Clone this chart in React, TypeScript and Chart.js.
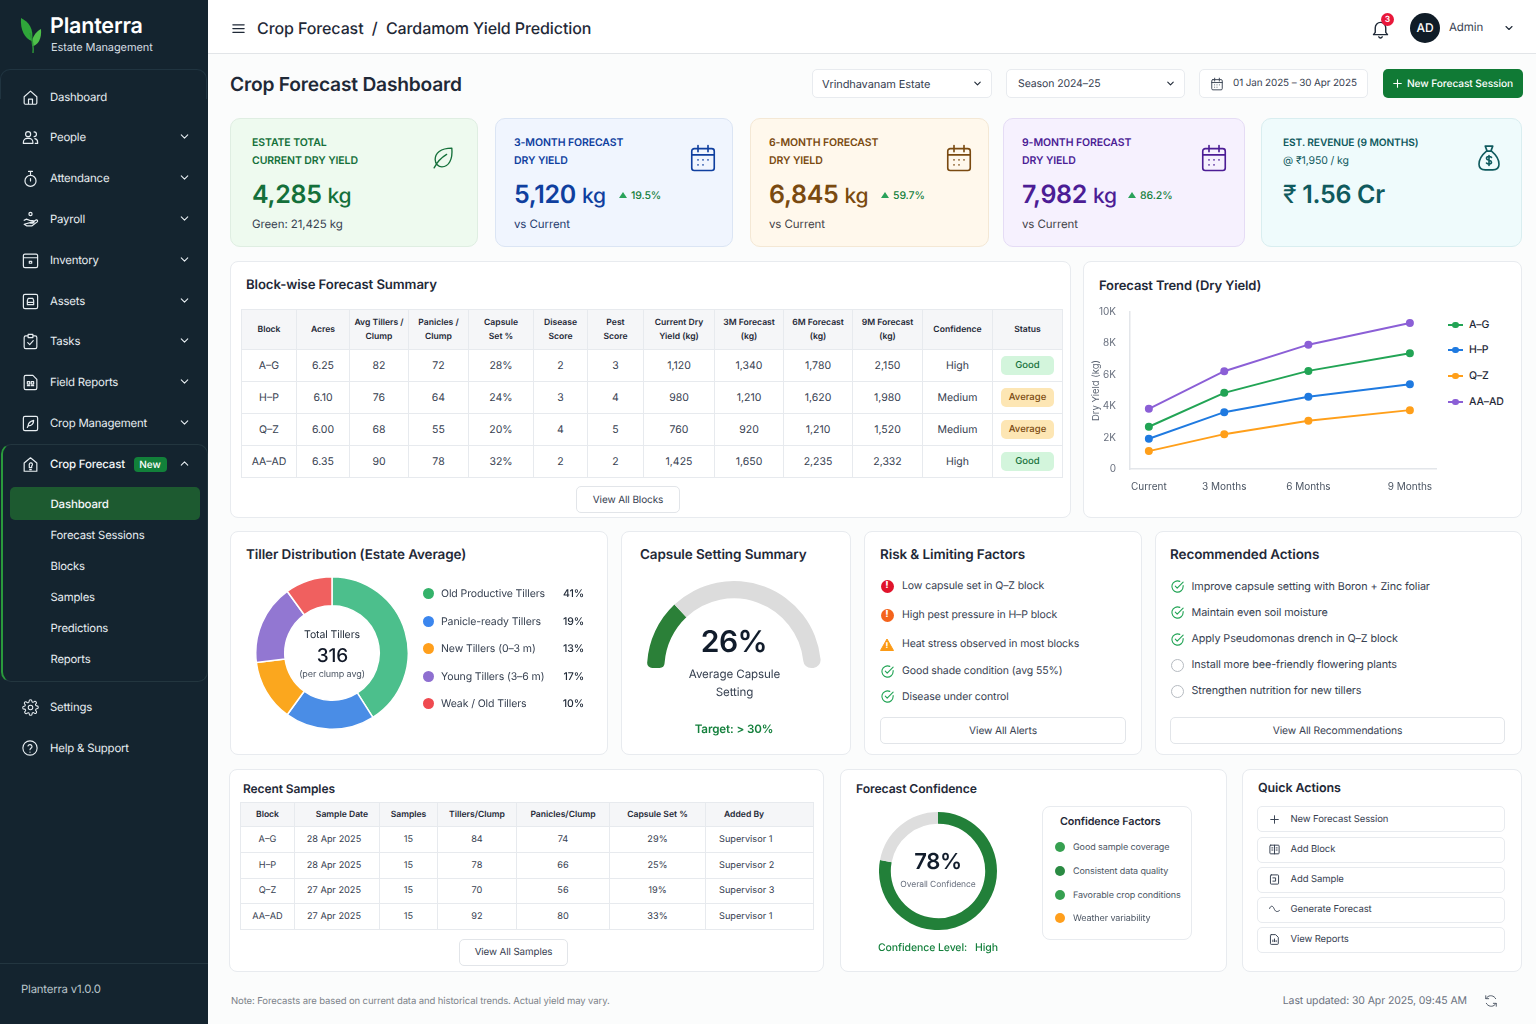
import { useEffect, useRef } from "react";
import type { CSSProperties, ReactNode } from "react";
import Chart from "chart.js/auto";

const FONT = "Inter, 'Noto Sans', sans-serif";

// forecast trend (kg)
const trendLabels = ["Current", "3 Months", "6 Months", "9 Months"];
const trendSteps = [0, 2.6, 5.5, 9]; // the horizons are not evenly spaced in the picture
const agYield = [2690, 4850, 6250, 7370];
const hpYield = [1930, 3620, 4600, 5400];
const qzYield = [1140, 2220, 3070, 3750];
const aaYield = [3830, 6230, 7920, 9300];
const trendNames = ["A–G", "H–P", "Q–Z", "AA–AD"];
const trendColors = ["#22a455", "#1f7ae0", "#ff9f1a", "#8b5fd6"];

const tillerLabels = ["Old Productive Tillers", "Panicle-ready Tillers", "New Tillers (0–3 m)", "Young Tillers (3–6 m)", "Weak / Old Tillers"];
const tillerShares = [41, 19, 13, 17, 10];
const tillerColors = ["#4cbf8c", "#4a8de6", "#fba71e", "#9277d2", "#f0605f"];
const tillerDots = ["#34b26a", "#3b86ee", "#ff9f1c", "#8e6fd0", "#ef4a50"];

const capsuleParts = [26, 74];
const confidenceParts = [78, 22];

const blockHead = ["Block", "Acres", "Avg Tillers /\nClump", "Panicles /\nClump", "Capsule\nSet %", "Disease\nScore", "Pest\nScore", "Current Dry\nYield (kg)", "3M Forecast\n(kg)", "6M Forecast\n(kg)", "9M Forecast\n(kg)", "Confidence", "Status"];
const blockRows = [
  ["A–G", "6.25", "82", "72", "28%", "2", "3", "1,120", "1,340", "1,780", "2,150", "High", "Good"],
  ["H–P", "6.10", "76", "64", "24%", "3", "4", "980", "1,210", "1,620", "1,980", "Medium", "Average"],
  ["Q–Z", "6.00", "68", "55", "20%", "4", "5", "760", "920", "1,210", "1,520", "Medium", "Average"],
  ["AA–AD", "6.35", "90", "78", "32%", "2", "2", "1,425", "1,650", "2,235", "2,332", "High", "Good"],
];
const blockCols = [55, 53, 59, 60, 65, 54, 56, 71, 69, 69, 70, 70, 70];

const sampleHead = ["Block", "Sample Date", "Samples", "Tillers/Clump", "Panicles/Clump", "Capsule Set %", "Added By"];
const sampleRows = [
  ["A–G", "28 Apr 2025", "15", "84", "74", "29%", "Supervisor 1"],
  ["H–P", "28 Apr 2025", "15", "78", "66", "25%", "Supervisor 2"],
  ["Q–Z", "27 Apr 2025", "15", "70", "56", "19%", "Supervisor 3"],
  ["AA–AD", "27 Apr 2025", "15", "92", "80", "33%", "Supervisor 1"],
];
const sampleCols = [54, 85, 58, 79, 93, 96, 108];

const navItems = ["Dashboard", "People", "Attendance", "Payroll", "Inventory", "Assets", "Tasks", "Field Reports", "Crop Management"];
const navIcons = ["home", "users", "timer", "coin", "box", "truck", "check", "file", "sprout"];
const subItems = ["Forecast Sessions", "Blocks", "Samples", "Predictions", "Reports"];
const riskItems = ["Low capsule set in Q–Z block", "High pest pressure in H–P block", "Heat stress observed in most blocks", "Good shade condition (avg 55%)", "Disease under control"];
const actionItems = ["Improve capsule setting with Boron + Zinc foliar", "Maintain even soil moisture", "Apply Pseudomonas drench in Q–Z block", "Install more bee-friendly flowering plants", "Strengthen nutrition for new tillers"];
const factorItems = ["Good sample coverage", "Consistent data quality", "Favorable crop conditions", "Weather variability"];
const quickItems = ["New Forecast Session", "Add Block", "Add Sample", "Generate Forecast", "View Reports"];

const ICONS: Record<string, string> = {
  home: "M4 11l8-7 8 7v8a1.5 1.5 0 0 1-1.5 1.5h-13A1.5 1.5 0 0 1 4 19zM9.5 20.5V14h5v6.5",
  users: "M9 11a3.2 3.2 0 1 0 0-6.4A3.2 3.2 0 0 0 9 11zM16.5 11a3 3 0 1 0 0-6M3 19.5v-1.5a5 5 0 0 1 5-5h2a5 5 0 0 1 5 5v1.5zM17.5 13.5a4.5 4.5 0 0 1 3.5 4.5v1.5h-3",
  timer: "M12 8a7 7 0 1 0 0 14 7 7 0 0 0 0-14zM12 3v5M9.5 3h5M12 15v-3",
  coin: "M12 3a2 2 0 1 0 0 4 2 2 0 0 0 0-4zM4 13l3-1.5 5 2h3a1.5 1.5 0 0 1 0 3h-3M15 15l4-2.5a1.5 1.5 0 0 1 1.5 2.5L14 20H7l-3-2z",
  box: "M5 4h14a2 2 0 0 1 2 2v13a2 2 0 0 1-2 2H5a2 2 0 0 1-2-2V6a2 2 0 0 1 2-2zM3 8.5h18M10.5 13h3v2.5h-3z",
  truck: "M5 3h14a2 2 0 0 1 2 2v14a2 2 0 0 1-2 2H5a2 2 0 0 1-2-2V5a2 2 0 0 1 2-2zM8 11l1-3h6l1 3v5H8zM8 13h8",
  check: "M8 5H6a2 2 0 0 0-2 2v12a2 2 0 0 0 2 2h12a2 2 0 0 0 2-2V7a2 2 0 0 0-2-2h-2M9 3h6v4H9zM8.5 13.5l2.5 2.5 4.5-5",
  file: "M6 3h9l5 5v11a2 2 0 0 1-2 2H6a2 2 0 0 1-2-2V5a2 2 0 0 1 2-2zM8 11h3v3H8zM13 11h3v3h-3zM8 16h3M13 16h3",
  sprout: "M5 3h14a2 2 0 0 1 2 2v14a2 2 0 0 1-2 2H5a2 2 0 0 1-2-2V5a2 2 0 0 1 2-2zM9 15c0-4 3-6 7-7 0 4-2 7-7 7zM9 15l-1 2",
  forecast: "M4 20.5V10l8-6.5 8 6.5v10.5zM10.5 12a2 2 0 1 1 3 1.7V16h-3v-2.3a2 2 0 0 1 0-1.7zM11 18.5h2",
  gear: "M12 15.2a3.2 3.2 0 1 0 0-6.4 3.2 3.2 0 0 0 0 6.4zM19.4 15a1.6 1.6 0 0 0 .3 1.8l.1.1a2 2 0 1 1-2.8 2.8l-.1-.1a1.6 1.6 0 0 0-2.7 1.1V21a2 2 0 1 1-4 0v-.1a1.6 1.6 0 0 0-2.7-1.1l-.1.1a2 2 0 1 1-2.8-2.8l.1-.1a1.6 1.6 0 0 0-1.1-2.7H3a2 2 0 1 1 0-4h.1a1.6 1.6 0 0 0 1.1-2.7l-.1-.1a2 2 0 1 1 2.8-2.8l.1.1a1.6 1.6 0 0 0 1.8.3H9a1.6 1.6 0 0 0 1-1.5V3a2 2 0 1 1 4 0v.1a1.6 1.6 0 0 0 2.7 1.1l.1-.1a2 2 0 1 1 2.8 2.8l-.1.1a1.6 1.6 0 0 0 1.1 2.7H21a2 2 0 1 1 0 4h-.1a1.6 1.6 0 0 0-1.5 1z",
  help: "M12 21.5a9.5 9.5 0 1 0 0-19 9.5 9.5 0 0 0 0 19zM9.3 9.3a2.8 2.8 0 0 1 5.4.9c0 1.9-2.7 2.4-2.7 4M12 17.5h.01",
  down: "M6 9l6 6 6-6",
  up: "M6 15l6-6 6 6",
  cal: "M5 4.5h14a2 2 0 0 1 2 2V20a2 2 0 0 1-2 2H5a2 2 0 0 1-2-2V6.5a2 2 0 0 1 2-2zM3 9.5h18M8 2v5M16 2v5M8 13.5h.01M12 13.5h.01M16 13.5h.01M8 17.5h.01M12 17.5h.01",
  leaf: "M20 3C9 3 4 8 4 14c0 4 3 7 6.5 7C17 21 21 14 20 3zM3 22c3-6 7-10 12-13",
  bag: "M9 2.5h6l-1.5 4h-3zM10 6.5h4c3 2.5 6 6.5 6 10.5 0 3-2 4.5-5 4.5H9c-3 0-5-1.5-5-4.5 0-4 3-8 6-10.5zM14 11.5c-1-1-4-1-4 .8 0 2 4 1 4 3 0 1.8-3 1.8-4 .7M12 10v8",
  bell: "M18 16.5V11a6 6 0 0 0-12 0v5.5L4 19h16zM10 21.5a2.2 2.2 0 0 0 4 0",
  menu: "M3 6h18M3 12h18M3 18h18",
  plus: "M12 5v14M5 12h14",
  block: "M5 4h14a1.5 1.5 0 0 1 1.5 1.5v13A1.5 1.5 0 0 1 19 20H5a1.5 1.5 0 0 1-1.5-1.5v-13A1.5 1.5 0 0 1 5 4zM12 4v16M7 9h2M7 13h2M15 9h2M15 13h2",
  sample: "M6 3.5h12A1.5 1.5 0 0 1 19.5 5v14a1.5 1.5 0 0 1-1.5 1.5H6A1.5 1.5 0 0 1 4.5 19V5A1.5 1.5 0 0 1 6 3.5zM9 9h5v6H9",
  wave: "M3 10c2-6 6-5 8 0s5 8 10 4",
  report: "M6 3h8l5 5v11.5a1.5 1.5 0 0 1-1.5 1.5H6a1.5 1.5 0 0 1-1.5-1.5v-15A1.5 1.5 0 0 1 6 3zM9 16v-3M12 16v-5M15 16v-2",
  refresh: "M20 8a9 9 0 0 0-15-2L3 8M3 3v5h5M4 16a9 9 0 0 0 15 2l2-2M21 21v-5h-5",
  tick: "M21 10.5V12a9 9 0 1 1-5.3-8.2M8.5 11.5l3 3L21 5",
};

const Ico = ({ n, x, y, s = 20, c = "#e8eef2", w = 1.6 }: { n: string; x: number; y: number; s?: number; c?: string; w?: number }) => (
  <svg width={s} height={s} viewBox="0 0 24 24" fill="none" stroke={c} strokeWidth={w} strokeLinecap="round" strokeLinejoin="round"
    style={{ position: "absolute", left: x - s / 2, top: y - s / 2 }}>
    <path d={ICONS[n]} />
  </svg>
);

type TP = { x: number; y: number; s?: number; w?: number; c?: string; a?: "l" | "c" | "r"; ls?: number; children: ReactNode };
const T = ({ x, y, s = 12, w = 400, c = "#374151", a = "l", ls = -0.1, children }: TP) => (
  <div style={{
    position: "absolute", left: x, top: y + 0.5, fontSize: s, fontWeight: w, color: c, whiteSpace: "nowrap", lineHeight: 1, letterSpacing: ls,
    transform: `translate(${a === "l" ? "0" : a === "c" ? "-50%" : "-100%"},-50%)`,
  }}>{children}</div>
);

const Box = ({ x, y, r, b, style, children }: { x: number; y: number; r: number; b: number; style?: CSSProperties; children?: ReactNode }) => (
  <div style={{
    position: "absolute", left: x, top: y, width: r - x, height: b - y, boxSizing: "border-box", background: "#fff",
    border: "1px solid #e8ebef", borderRadius: 8, ...style,
  }}>{children}</div>
);

const Btn = ({ x, y, r, b, label, s = 10.2 }: { x: number; y: number; r: number; b: number; label: string; s?: number }) => (
  <>
    <Box x={x} y={y} r={r} b={b} style={{ borderRadius: 5, border: "1px solid #e2e5e9" }} />
    <T x={(x + r) / 2} y={(y + b) / 2} s={s} c="#374151" a="c">{label}</T>
  </>
);

const Dot = ({ x, y, s = 11, c }: { x: number; y: number; s?: number; c: string }) => (
  <div style={{ position: "absolute", left: x - s / 2, top: y - s / 2, width: s, height: s, borderRadius: "50%", background: c }} />
);

const ChartBox = ({ x, y, w, h, make }: { x: number; y: number; w: number; h: number; make: (c: HTMLCanvasElement) => Chart }) => {
  const ref = useRef<HTMLCanvasElement>(null);
  useEffect(() => {
    const chart = make(ref.current!);
    return () => chart.destroy();
  }, []);
  return <canvas ref={ref} width={w} height={h} style={{ position: "absolute", left: x, top: y, width: w, height: h }} />;
};

const makeTrend = (c: HTMLCanvasElement) =>
  new Chart(c, {
    type: "line",
    data: {
      datasets: [agYield, hpYield, qzYield, aaYield].map((ys, i) => ({
        label: trendNames[i],
        data: ys.map((y, k) => ({ x: trendSteps[k], y })),
        borderColor: trendColors[i],
        backgroundColor: trendColors[i],
        borderWidth: 2,
        pointRadius: 3,
        tension: 0,
      })),
    },
    options: {
      animation: false,
      responsive: false,
      layout: { padding: { top: 12, right: 6 } },
      plugins: { legend: { display: false }, tooltip: { enabled: false } },
      scales: {
        x: {
          type: "linear",
          min: -0.65,
          max: 9.9,
          grid: { display: false },
          border: { color: "#e3e6ea", width: 1.5 },
          afterBuildTicks: (ax: any) => { ax.ticks = trendSteps.map((value) => ({ value })); },
          afterFit: (ax: any) => { ax.height = 26; },
          ticks: {
            autoSkip: false, maxRotation: 0, color: "#4b5563", padding: 4, font: { family: FONT, size: 10 },
            callback: (v: any) => trendLabels[trendSteps.indexOf(Number(v))],
          },
        },
        y: {
          min: 0,
          max: 10000,
          grid: { display: false },
          border: { color: "#e3e6ea", width: 1.5 },
          afterFit: (ax: any) => { ax.width = 43; },
          title: { display: true, text: "Dry Yield (kg)", color: "#5b6472", padding: { top: 3, bottom: 0 }, font: { family: FONT, size: 9.5 } },
          ticks: {
            stepSize: 2000, color: "#6b7280", padding: 6, font: { family: FONT, size: 10 },
            callback: (v: any) => (Number(v) === 0 ? "0" : `${Number(v) / 1000}K`),
          },
        },
      },
    },
  });

const makeTillers = (c: HTMLCanvasElement) =>
  new Chart(c, {
    type: "doughnut",
    data: { labels: tillerLabels, datasets: [{ data: tillerShares, backgroundColor: tillerColors, borderColor: "#fff", borderWidth: 1.5 }] },
    options: { animation: false, responsive: false, cutout: "62%", plugins: { legend: { display: false }, tooltip: { enabled: false } } },
  });

const makeGauge = (c: HTMLCanvasElement) =>
  new Chart(c, {
    type: "doughnut",
    data: {
      labels: ["Average", "Rest"],
      datasets: [{
        data: capsuleParts,
        backgroundColor: ["#2b8038", "#dcdcdc"],
        borderWidth: 0,
        borderRadius: [
          { outerStart: 5, innerStart: 5, outerEnd: 0, innerEnd: 0 },
          { outerStart: 0, innerStart: 0, outerEnd: 8, innerEnd: 8 },
        ] as any,
      }],
    },
    options: { animation: false, responsive: false, rotation: -90, circumference: 180, cutout: "80%", plugins: { legend: { display: false }, tooltip: { enabled: false } } },
  });

const makeConfidence = (c: HTMLCanvasElement) =>
  new Chart(c, {
    type: "doughnut",
    data: { labels: ["Confidence", "Rest"], datasets: [{ data: confidenceParts, backgroundColor: ["#228039", "#dedede"], borderWidth: 0 }] },
    options: { animation: false, responsive: false, cutout: "80%", plugins: { legend: { display: false }, tooltip: { enabled: false } } },
  });

const th: CSSProperties = { border: "1px solid #e7eaee", background: "#f5f6f8", fontWeight: 600, color: "#1f2937", padding: 0, textAlign: "center", whiteSpace: "pre-line" };
const td: CSSProperties = { border: "1px solid #e7eaee", color: "#374151", padding: 0, textAlign: "center", whiteSpace: "nowrap" };

const Kpi = ({ x, bx, r, bg, bd, head, l1, l2, l1s = 10.5, value, unit, pct, foot, footColor, icon, ix, l2w = 600 }: any) => (
  <>
    <Box x={bx} y={118} r={r} b={247} style={{ background: bg, border: `1px solid ${bd}`, borderRadius: 10 }} />
    <T x={x} y={142} s={l1s} w={600} c={head}>{l1}</T>
    <T x={x} y={160} s={10.5} w={l2w} c={head}>{l2}</T>
    <T x={x} y={194} s={25} w={600} c={head} ls={-0.3}>{value}{unit && <span style={{ fontWeight: 500, fontSize: 21, marginLeft: 6 }}>{unit}</span>}</T>
    {pct && <>
      <svg width="8" height="6" style={{ position: "absolute", left: pct.x, top: 192 }}><path d="M4 0L8 6H0z" fill="#2aa25a" /></svg>
      <T x={pct.x + 12} y={195} s={10.5} w={500} c="#15803d">{pct.t}</T>
    </>}
    <T x={x} y={224} s={11.5} c={footColor}>{foot}</T>
    <Ico n={icon} x={ix} y={157.5} s={icon === "leaf" ? 25 : 30} c={head} w={1.3} />
  </>
);

export default function App() {
  return (
    <div style={{ position: "fixed", left: 0, top: 0, width: 1536, height: 1024, overflow: "hidden", background: "#fbfcfc", fontFamily: FONT, textRendering: "geometricPrecision" }}>
      {/* sidebar */}
      <div style={{ position: "absolute", left: 0, top: 0, width: 208, height: 1024, background: "#14242f" }} />
      <div style={{ position: "absolute", left: 0, top: 69, width: 207, height: 30, borderTop: "1px solid #203440", borderRight: "1px solid #203440", borderLeft: "1px solid #203440", borderRadius: "10px 10px 0 0", boxSizing: "border-box" }} />
      <svg width="26" height="38" viewBox="0 0 26 38" style={{ position: "absolute", left: 20, top: 17 }}>
        <path d="M1 1C9 5 14 12 12 24 5 22 0 13 1 1z" fill="#2fa63a" />
        <path d="M21 12c1 9-3 17-9 17-1-7 3-14 9-17z" fill="#4fc04a" />
        <path d="M10 16c2 6 4 12 3 20" stroke="#2c9438" strokeWidth="1.5" fill="none" />
      </svg>
      <T x={50} y={26.5} s={21.5} w={600} c="#fff" ls={-0.2}>Planterra</T>
      <T x={51} y={46.5} s={11} c="#d5dde2">Estate Management</T>
      {navItems.map((n, i) => {
        const y = [97, 137, 178, 219, 260, 301, 341, 382, 423][i];
        return (
          <div key={n}>
            <Ico n={navIcons[i]} x={30} y={y} s={19} w={1.5} />
            <T x={50} y={y} s={11.4} ls={-0.2} c="#e8eef2">{n}</T>
            {i > 0 && <Ico n="down" x={184} y={y - 1} s={13} w={2} />}
          </div>
        );
      })}
      <div style={{ position: "absolute", left: 1, top: 444, width: 207, height: 238, boxSizing: "border-box", border: "1px solid #23363f", borderLeft: "2px solid #2a9a3c", borderRadius: 10 }} />
      <Ico n="forecast" x={30} y={464} s={19} w={1.5} />
      <T x={50} y={464} s={11.5} w={500} ls={-0.2} c="#f3f6f8">Crop Forecast</T>
      <div style={{ position: "absolute", left: 134, top: 457, width: 33, height: 15, borderRadius: 4, background: "#12803a" }} />
      <T x={150} y={464} s={10} w={500} c="#fff" a="c">New</T>
      <Ico n="up" x={184} y={463} s={13} w={2} />
      <div style={{ position: "absolute", left: 10, top: 487, width: 190, height: 33, borderRadius: 5, background: "#1d5a30" }} />
      <T x={50.5} y={504} s={11.5} w={500} ls={-0.2} c="#f3f6f8">Dashboard</T>
      {subItems.map((n, i) => <T key={n} x={50.5} y={[535.5, 566.5, 597.5, 628.5, 659.5][i]} s={11.3} ls={-0.2} c="#e8eef2">{n}</T>)}
      <Ico n="gear" x={30} y={707} s={17} w={1.5} />
      <T x={50} y={707} s={11.4} ls={-0.2} c="#e8eef2">Settings</T>
      <Ico n="help" x={30} y={748} s={18} w={1.5} />
      <T x={50} y={748} s={11.4} ls={-0.2} c="#e8eef2">Help &amp; Support</T>
      <div style={{ position: "absolute", left: 0, top: 963, width: 208, height: 1, background: "#233640" }} />
      <T x={21} y={989.5} s={11.4} ls={-0.2} c="#b9c4cb">Planterra v1.0.0</T>

      {/* top bar */}
      <div style={{ position: "absolute", left: 208, top: 0, width: 1328, height: 54, background: "#fff", borderBottom: "1px solid #e2e5e8", boxSizing: "border-box" }} />
      <Ico n="menu" x={238} y={28} s={15} c="#1f2937" w={2} />
      <T x={257} y={27} s={16} w={500} c="#1f2937" ls={-0.1}>Crop Forecast&nbsp;&nbsp;/&nbsp;&nbsp;Cardamom Yield Prediction</T>
      <Ico n="bell" x={1380} y={28} s={21} c="#1f2937" />
      <Dot x={1387.5} y={19.5} s={13} c="#e8173a" />
      <T x={1387.5} y={19} s={8.5} w={600} c="#fff" a="c">3</T>
      <Dot x={1425} y={27.5} s={30} c="#101c27" />
      <T x={1425} y={27} s={12} w={500} c="#fff" a="c">AD</T>
      <T x={1449} y={27.5} s={11.5} c="#374151">Admin</T>
      <Ico n="down" x={1509} y={27.5} s={12} c="#1f2937" w={2.2} />

      {/* title row */}
      <T x={230} y={84} s={19.2} w={600} c="#1f2937" ls={-0.2}>Crop Forecast Dashboard</T>
      <Box x={812} y={69} r={992} b={98} style={{ borderRadius: 5 }} />
      <T x={822} y={83} s={11} c="#374151">Vrindhavanam Estate</T>
      <Ico n="down" x={977} y={83} s={11} c="#1f2937" w={2.4} />
      <Box x={1006} y={69} r={1185} b={98} style={{ borderRadius: 5 }} />
      <T x={1018} y={83} s={10.5} c="#374151">Season 2024–25</T>
      <Ico n="down" x={1170} y={83} s={11} c="#1f2937" w={2.4} />
      <Box x={1199} y={69} r={1368} b={98} style={{ borderRadius: 5 }} />
      <Ico n="cal" x={1217} y={83.5} s={14} c="#374151" />
      <T x={1233} y={83} s={9.9} c="#374151">01 Jan 2025 – 30 Apr 2025</T>
      <div style={{ position: "absolute", left: 1383, top: 69, width: 140, height: 29, borderRadius: 5, background: "#107a35" }} />
      <Ico n="plus" x={1397} y={83.5} s={13} c="#fff" w={2} />
      <T x={1407} y={83} s={10.2} w={500} c="#fff">New Forecast Session</T>

      {/* kpis */}
      <Kpi x={252} bx={230} r={478} bg="#eefaef" bd="#dfeee2" head="#14703a" l1="ESTATE TOTAL" l2="CURRENT DRY YIELD" value="4,285" unit="kg" foot="Green: 21,425 kg" footColor="#374151" icon="leaf" ix={443} />
      <Kpi x={514} bx={495} r={733} bg="#f0f5fe" bd="#dbe5f4" head="#0f3f9f" l1="3-MONTH FORECAST" l2="DRY YIELD" value="5,120" unit="kg" pct={{ x: 619, t: "19.5%" }} foot="vs Current" footColor="#1e3a6e" icon="cal" ix={703} />
      <Kpi x={769} bx={750} r={989} bg="#fff8ec" bd="#f4e8d5" head="#7a4a10" l1="6-MONTH FORECAST" l2="DRY YIELD" value="6,845" unit="kg" pct={{ x: 881, t: "59.7%" }} foot="vs Current" footColor="#3f3f46" icon="cal" ix={959} />
      <Kpi x={1022} bx={1003} r={1245} bg="#f6f1fe" bd="#e5dcf5" head="#4c1d95" l1="9-MONTH FORECAST" l2="DRY YIELD" value="7,982" unit="kg" pct={{ x: 1128, t: "86.2%" }} foot="vs Current" footColor="#3f3f46" icon="cal" ix={1214} />
      <Kpi x={1283} bx={1261} r={1522} bg="#effbfc" bd="#d9eef0" head="#0f5a5e" l1="EST. REVENUE (9 MONTHS)" l1s={10.2} l2="@ ₹1,950 / kg" l2w={400} value={<><span style={{ fontWeight: 400 }}>₹</span> 1.56 Cr</>} foot="" footColor="#3f3f46" icon="bag" ix={1489} />

      {/* block table */}
      <Box x={230} y={261} r={1071} b={518} />
      <T x={246} y={285} s={13.2} w={600} c="#1f2937">Block-wise Forecast Summary</T>
      <table style={{ position: "absolute", left: 241, top: 309, width: 821, tableLayout: "fixed", borderCollapse: "collapse", fontSize: 8.6 }}>
        <colgroup>{blockCols.map((w, i) => <col key={i} style={{ width: w }} />)}</colgroup>
        <thead><tr style={{ height: 40, lineHeight: "14px" }}>{blockHead.map((h) => <th key={h} style={th}>{h}</th>)}</tr></thead>
        <tbody>
          {blockRows.map((row) => (
            <tr key={row[0]} style={{ height: 32 }}>
              {row.map((v, i) => (
                <td key={i} style={{ ...td, fontSize: 10.5 }}>
                  {i === 12
                    ? <span style={{ display: "inline-block", width: 53, lineHeight: "19px", borderRadius: 5, fontSize: 9.5, fontWeight: 500, background: v === "Good" ? "#d3f5dc" : "#fde6b4", color: v === "Good" ? "#14703a" : "#7a4a10" }}>{v}</span>
                    : v}
                </td>
              ))}
            </tr>
          ))}
        </tbody>
      </table>
      <Btn x={576} y={486} r={680} b={513} label="View All Blocks" s={10} />

      {/* trend */}
      <Box x={1083} y={261} r={1522} b={518} />
      <T x={1099} y={285} s={13} w={600} c="#1f2937">Forecast Trend (Dry Yield)</T>
      <ChartBox x={1087} y={300} w={355} h={195} make={makeTrend} />
      {trendNames.map((n, i) => {
        const y = [325, 350, 376, 402][i];
        return (
          <div key={n}>
            <div style={{ position: "absolute", left: 1448, top: y - 1, width: 15, height: 2, background: trendColors[i] }} />
            <Dot x={1455.5} y={y} s={6.5} c={trendColors[i]} />
            <T x={1469} y={y - 0.5} s={10.5} w={500} c="#1f2937">{n}</T>
          </div>
        );
      })}

      {/* tillers */}
      <Box x={230} y={531} r={608} b={755} />
      <T x={246} y={555} s={13.5} w={600} c="#1f2937">Tiller Distribution (Estate Average)</T>
      <ChartBox x={255} y={576} w={154} h={154} make={makeTillers} />
      <T x={332} y={634} s={10.5} c="#1f2937" a="c">Total Tillers</T>
      <T x={332.5} y={654} s={19} w={500} c="#111827" a="c">316</T>
      <T x={332} y={673} s={9} c="#4b5563" a="c">(per clump avg)</T>
      {tillerLabels.map((n, i) => {
        const y = [593.5, 621, 648.5, 676, 703.5][i];
        return (
          <div key={n}>
            <Dot x={428.5} y={y} c={tillerDots[i]} />
            <T x={441} y={y} s={10.5} c="#374151">{n}</T>
            <T x={584} y={y} s={10.5} w={500} c="#1f2937" a="r">{tillerShares[i]}%</T>
          </div>
        );
      })}

      {/* capsule gauge */}
      <Box x={621} y={531} r={851} b={755} />
      <T x={640} y={555} s={13.5} w={600} c="#1f2937">Capsule Setting Summary</T>
      <ChartBox x={647} y={580} w={174} h={89} make={makeGauge} />
      <T x={734} y={641} s={30} w={600} c="#111c2b" a="c" ls={-0.5}>26%</T>
      <T x={734.5} y={674} s={11.6} c="#374151" a="c">Average Capsule</T>
      <T x={734.5} y={692} s={11.6} c="#374151" a="c">Setting</T>
      <T x={734} y={729} s={11.6} w={600} c="#15803d" a="c">Target: &gt; 30%</T>

      {/* risks */}
      <Box x={864} y={531} r={1142} b={755} />
      <T x={880} y={555} s={13.5} w={600} c="#1f2937">Risk &amp; Limiting Factors</T>
      {riskItems.map((n, i) => {
        const y = [586, 615, 644, 671, 696.5][i];
        return (
          <div key={n}>
            {i < 2 && <>
              <Dot x={887} y={y} s={13} c={i === 0 ? "#e0142c" : "#f4631c"} />
              <T x={887} y={y - 0.5} s={9.5} w={800} c="#fff" a="c">!</T>
            </>}
            {i === 2 && <>
              <svg width="14" height="13" style={{ position: "absolute", left: 880, top: y - 6 }}><path d="M7 1L13.5 12.5H.5z" fill="#fb9a16" stroke="#fb9a16" strokeLinejoin="round" /></svg>
              <T x={887} y={y + 0.5} s={8} w={800} c="#fff" a="c">!</T>
            </>}
            {i > 2 && <Ico n="tick" x={887} y={y} s={15} c="#22a455" w={1.8} />}
            <T x={902} y={y - 0.5} s={10.5} c="#374151">{n}</T>
          </div>
        );
      })}
      <Btn x={880} y={717} r={1126} b={744} label="View All Alerts" />

      {/* actions */}
      <Box x={1155} y={531} r={1522} b={755} />
      <T x={1170} y={555} s={13.5} w={600} c="#1f2937">Recommended Actions</T>
      {actionItems.map((n, i) => {
        const y = [586.5, 612.5, 639, 665, 691][i];
        return (
          <div key={n}>
            {i < 3
              ? <Ico n="tick" x={1177} y={y} s={15} c="#22a455" w={1.8} />
              : <div style={{ position: "absolute", left: 1170.5, top: y - 6.5, width: 13, height: 13, boxSizing: "border-box", borderRadius: "50%", border: "1.2px solid #b6bbc1" }} />}
            <T x={1191.5} y={y - 0.5} s={10.8} c="#374151">{n}</T>
          </div>
        );
      })}
      <Btn x={1170} y={717} r={1505} b={744} label="View All Recommendations" s={10.3} />

      {/* samples */}
      <Box x={229} y={769} r={824} b={972} />
      <T x={243} y={788} s={12} w={600} c="#1f2937">Recent Samples</T>
      <table style={{ position: "absolute", left: 240, top: 802, width: 573, tableLayout: "fixed", borderCollapse: "collapse", fontSize: 8.6 }}>
        <colgroup>{sampleCols.map((w, i) => <col key={i} style={{ width: w }} />)}</colgroup>
        <thead>
          <tr style={{ height: 24 }}>
            {sampleHead.map((h, i) => (
              <th key={h} style={{ ...th, textAlign: i === 6 ? "left" : "center", paddingLeft: i === 6 ? 18 : i === 1 ? 10 : 0 }}>{h}</th>
            ))}
          </tr>
        </thead>
        <tbody>
          {sampleRows.map((row) => (
            <tr key={row[0]} style={{ height: 25.75 }}>
              {row.map((v, i) => (
                <td key={i} style={{ ...td, fontSize: 9.2, textAlign: i === 6 ? "left" : "center", paddingLeft: i === 6 ? 13 : 0, paddingRight: i === 1 ? 6 : 0 }}>{v}</td>
              ))}
            </tr>
          ))}
        </tbody>
      </table>
      <Btn x={459} y={939} r={568} b={966} label="View All Samples" s={9.8} />

      {/* confidence */}
      <Box x={840} y={769} r={1227} b={972} />
      <T x={856} y={788} s={12.2} w={600} c="#1f2937">Forecast Confidence</T>
      <ChartBox x={879} y={812} w={118} h={118} make={makeConfidence} />
      <T x={938} y={861} s={22} w={600} c="#111c2b" a="c" ls={-0.3}>78%</T>
      <T x={938} y={884.5} s={8.5} c="#6b7280" a="c">Overall Confidence</T>
      <T x={878} y={947} s={10.5} w={500} c="#15803d">Confidence Level:</T>
      <T x={975} y={947} s={10.5} w={500} c="#15803d">High</T>
      <Box x={1042} y={806} r={1192} b={940} />
      <T x={1060} y={821} s={10.8} w={600} c="#1f2937">Confidence Factors</T>
      {factorItems.map((n, i) => {
        const y = [847, 871, 895, 918][i];
        return (
          <div key={n}>
            <Dot x={1060} y={y} s={10} c={["#36a050", "#2a8a42", "#36a050", "#ff9f1c"][i]} />
            <T x={1073} y={y - 0.5} s={9} c="#4b5563">{n}</T>
          </div>
        );
      })}

      {/* quick actions */}
      <Box x={1242} y={769} r={1522} b={972} />
      <T x={1258} y={788} s={12.5} w={600} c="#1f2937">Quick Actions</T>
      {quickItems.map((n, i) => {
        const y = [819, 849.5, 879.5, 909.5, 939.5][i];
        return (
          <div key={n}>
            <Box x={1257} y={y - 13} r={1505} b={y + 13} style={{ borderRadius: 5 }} />
            <Ico n={["plus", "block", "sample", "wave", "report"][i]} x={1274} y={y} s={13} c="#374151" w={1.8} />
            <T x={1290.5} y={y} s={9.5} c="#374151">{n}</T>
          </div>
        );
      })}

      {/* footer */}
      <T x={231} y={1001} s={9.5} c="#7b8289">Note: Forecasts are based on current data and historical trends. Actual yield may vary.</T>
      <T x={1467} y={1000} s={10.5} c="#6b7280" a="r">Last updated: 30 Apr 2025, 09:45 AM</T>
      <Ico n="refresh" x={1491} y={1000.5} s={14} c="#4b5563" />
    </div>
  );
}
